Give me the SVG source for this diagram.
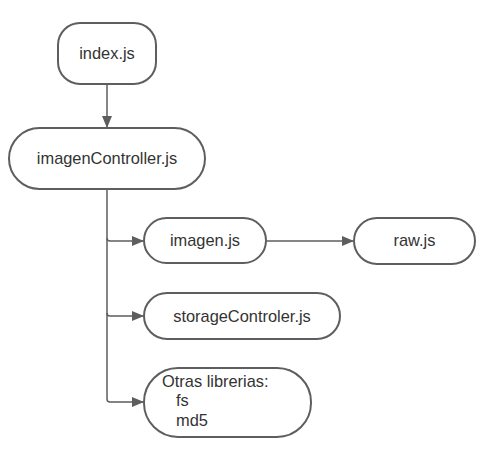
<svg xmlns="http://www.w3.org/2000/svg" width="503" height="469" viewBox="0 0 503 469">
<style>
.n{fill:#fff;stroke:#5e5e5e;stroke-width:2}
.t{font-family:"Liberation Sans",Arial,sans-serif;font-size:16.4px;fill:#333}
.c{fill:none;stroke:#5e5e5e;stroke-width:1.5}
</style>
<defs>
<marker id="a" markerWidth="12" markerHeight="10" refX="11" refY="5" orient="auto" markerUnits="userSpaceOnUse">
<path d="M0,0 L12,5 L0,10 Z" fill="#5e5e5e"/>
</marker>
</defs>
<rect width="503" height="469" fill="#fff"/>
<g id="connectors">
<path class="c" d="M107,85 V127" marker-end="url(#a)"/>
<path class="c" d="M107,190 V238 Q107,241 110,241 H143" marker-end="url(#a)"/>
<path class="c" d="M107,238 V313 Q107,316 110,316 H143" marker-end="url(#a)"/>
<path class="c" d="M107,313 V399 Q107,402 110,402 H143" marker-end="url(#a)"/>
<path class="c" d="M267,241 H353" marker-end="url(#a)"/>
</g>
<g id="index">
<rect class="n" x="58" y="23" width="98" height="61" rx="22"/>
<text class="t" x="107" y="59" text-anchor="middle">index.js</text>
</g>
<g id="imagenController">
<rect class="n" x="9" y="128" width="196" height="61" rx="30.5"/>
<text class="t" x="107" y="164" text-anchor="middle">imagenController.js</text>
</g>
<g id="imagen">
<rect class="n" x="144" y="218" width="122" height="45" rx="22.5"/>
<text class="t" x="205" y="246" text-anchor="middle">imagen.js</text>
</g>
<g id="raw">
<rect class="n" x="354" y="218" width="121" height="46" rx="23"/>
<text class="t" x="414.5" y="246" text-anchor="middle">raw.js</text>
</g>
<g id="storage">
<rect class="n" x="144" y="293" width="196" height="46" rx="23"/>
<text class="t" x="242" y="322" text-anchor="middle">storageControler.js</text>
</g>
<g id="otras">
<rect class="n" x="144" y="368" width="167" height="69" rx="34"/>
<text class="t" x="162" y="387">Otras librerias:</text>
<text class="t" x="176" y="406">fs</text>
<text class="t" x="176" y="426">md5</text>
</g>
</svg>
